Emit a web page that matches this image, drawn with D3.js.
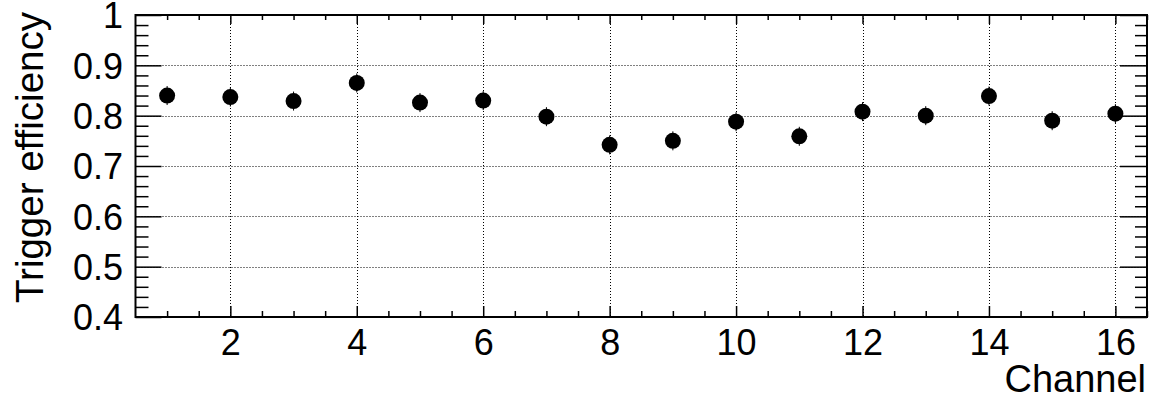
<!DOCTYPE html>
<html><head><meta charset="utf-8">
<script src="https://cdn.jsdelivr.net/npm/d3@7"></script>
<style>body{margin:0;background:#fff}svg{display:block}text{font-family:"Liberation Sans",Arial,sans-serif;fill:#000}</style>
</head><body><svg id="c" width="1150" height="410"></svg>
<script>
const channels = [1,2,3,4,5,6,7,8,9,10,11,12,13,14,15,16];
const efficiency = [0.840,0.837,0.829,0.865,0.826,0.830,0.798,0.742,0.750,0.788,0.759,0.808,0.800,0.839,0.790,0.804];
const xMajorTicks = [2,4,6,8,10,12,14,16];
const yMajorTicks = [0.4,0.5,0.6,0.7,0.8,0.9,1];
const xLabel = "Channel";
const yLabel = "Trigger efficiency";

const svg = d3.select("#c");
const L = 135.5, R = 1147, T = 15, B = 317;
const x = d3.scaleLinear().domain([0.5,16.5]).range([L,R]);
const y = d3.scaleLinear().domain([0.4,1]).range([B,T]);

const xMinor = d3.range(1,16.51,0.5).filter(v=>!xMajorTicks.includes(v));
const yMinor = d3.range(0,31).map(i=>0.4+i*0.02).filter(v=>!yMajorTicks.some(t=>Math.abs(t-v)<1e-6));

// grid
const g = svg.append("g");
g.selectAll(".gx").data(xMajorTicks).join("line")
 .attr("x1",d=>Math.round(x(d))+0.5).attr("x2",d=>Math.round(x(d))+0.5).attr("y1",T).attr("y2",B)
 .attr("stroke","#000").attr("stroke-width",1).attr("stroke-dasharray","1,2");
g.selectAll(".gy").data(yMajorTicks.filter(v=>v>0.4&&v<1)).join("line")
 .attr("y1",d=>Math.round(y(d))+0.5).attr("y2",d=>Math.round(y(d))+0.5).attr("x1",L).attr("x2",R)
 .attr("stroke","#000").attr("stroke-width",1).attr("stroke-dasharray","1,2");

// axes
const ax = svg.append("g").attr("transform",`translate(0,${B})`)
 .call(d3.axisBottom(x).tickValues(xMajorTicks).tickSize(-11).tickFormat(d3.format("d")));
ax.select(".domain").remove();
ax.selectAll("line").attr("stroke-width",1.5);
ax.selectAll("text").attr("font-size",36).attr("dy",null).attr("y",38);
svg.append("g").attr("transform",`translate(0,${B})`)
 .call(d3.axisBottom(x).tickValues(xMinor).tickSize(-6).tickFormat(""))
 .call(s=>{s.select(".domain").remove();s.selectAll("line").attr("stroke-width",1.5);});
// top ticks
svg.append("g").attr("transform",`translate(0,${T})`)
 .call(d3.axisTop(x).tickValues(xMajorTicks).tickSize(-9).tickFormat(""))
 .call(s=>{s.select(".domain").remove();s.selectAll("line").attr("stroke-width",1.5);});
svg.append("g").attr("transform",`translate(0,${T})`)
 .call(d3.axisTop(x).tickValues(xMinor).tickSize(-5).tickFormat(""))
 .call(s=>{s.select(".domain").remove();s.selectAll("line").attr("stroke-width",1.5);});

const ay = svg.append("g").attr("transform",`translate(${L},0)`)
 .call(d3.axisLeft(y).tickValues(yMajorTicks).tickSize(-26).tickFormat(d=>d===1?"1":d3.format(".1f")(d)));
ay.select(".domain").remove();
ay.selectAll("line").attr("stroke-width",1.5);
ay.selectAll("text").attr("font-size",36).attr("x",-12.5).attr("dy","0.36em");
svg.append("g").attr("transform",`translate(${L},0)`)
 .call(d3.axisLeft(y).tickValues(yMinor).tickSize(-13).tickFormat(""))
 .call(s=>{s.select(".domain").remove();s.selectAll("line").attr("stroke-width",1.5);});
svg.append("g").attr("transform",`translate(${R},0)`)
 .call(d3.axisRight(y).tickValues(yMajorTicks).tickSize(-27).tickFormat(""))
 .call(s=>{s.select(".domain").remove();s.selectAll("line").attr("stroke-width",1.5);});
svg.append("g").attr("transform",`translate(${R},0)`)
 .call(d3.axisRight(y).tickValues(yMinor).tickSize(-12).tickFormat(""))
 .call(s=>{s.select(".domain").remove();s.selectAll("line").attr("stroke-width",1.5);});

// frame
svg.append("rect").attr("x",L).attr("y",T).attr("width",R-L).attr("height",B-T)
 .attr("fill","none").attr("stroke","#000").attr("stroke-width",2);

// points
const pts = channels.map((c,i)=>({c,v:efficiency[i]}));
svg.append("g").selectAll("line").data(pts).join("line")
 .attr("x1",d=>x(d.c)).attr("x2",d=>x(d.c)).attr("y1",d=>y(d.v)-9.5).attr("y2",d=>y(d.v)+9.5)
 .attr("stroke","#000").attr("stroke-width",1);
svg.append("g").selectAll("circle").data(pts).join("circle")
 .attr("cx",d=>x(d.c)).attr("cy",d=>y(d.v)).attr("r",8).attr("fill","#000");

// titles
svg.append("text").attr("x",R-1).attr("y",392).attr("text-anchor","end").attr("font-size",38).text(xLabel);
svg.append("text").attr("transform",`translate(43,12) rotate(-90)`).attr("text-anchor","end")
 .attr("font-size",38.5).text(yLabel);
</script></body></html>
